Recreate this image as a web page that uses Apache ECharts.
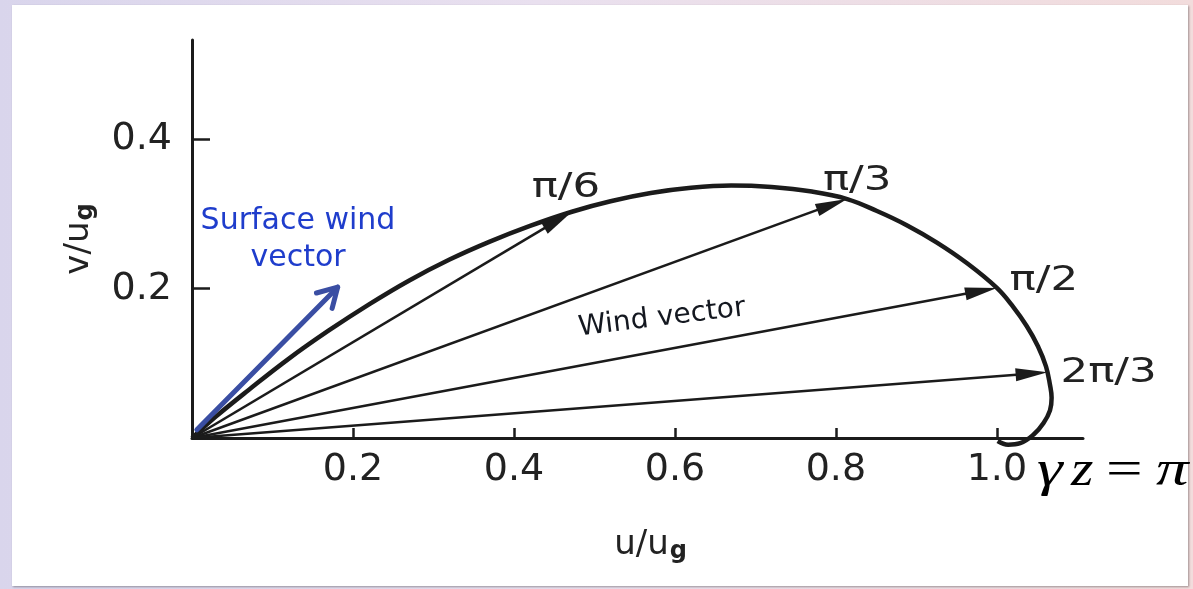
<!DOCTYPE html>
<html><head><meta charset="utf-8">
<script src="https://cdn.jsdelivr.net/npm/echarts@6/dist/echarts.min.js"></script>
<style>
html,body{margin:0;padding:0;width:1193px;height:589px;overflow:hidden;}
body{background:linear-gradient(90deg,#d9d5ec 0%,#e9e0ef 45%,#f2dcdc 100%);}
#frame{position:absolute;left:12px;top:5px;width:1176px;height:581px;background:#fff;box-shadow:1px 1px 2px rgba(0,0,0,0.35);}
#chart{position:absolute;left:0;top:0;width:1193px;height:589px;}
</style></head><body>
<div id="frame"></div><div id="chart"></div>
<script>
// tick labels
const xTicks = [0.2, 0.4, 0.6, 0.8, 1.0];
const yTicks = [0.2, 0.4];
// hodograph (Ekman spiral)
const curveU = [0.000, 0.030, 0.070, 0.120, 0.170, 0.220, 0.270, 0.320, 0.370, 0.420, 0.472, 0.520, 0.570, 0.620, 0.670, 0.720, 0.770, 0.814, 0.851, 0.888, 0.925, 0.963, 1.000, 1.020, 1.037, 1.051, 1.061, 1.066, 1.068, 1.066, 1.058, 1.046, 1.029, 1.014, 1.001];
const curveV = [0.000, 0.029, 0.064, 0.106, 0.144, 0.179, 0.211, 0.239, 0.263, 0.284, 0.303, 0.317, 0.328, 0.335, 0.338, 0.336, 0.330, 0.320, 0.304, 0.285, 0.262, 0.234, 0.201, 0.176, 0.150, 0.123, 0.096, 0.071, 0.054, 0.037, 0.020, 0.005, -0.007, -0.009, -0.004];
// wind vectors
const vectorLabels = ['π/6', 'π/3', 'π/2', '2π/3'];
const vectorU = [0.472, 0.814, 1.000, 1.063];
const vectorV = [0.303, 0.320, 0.201, 0.088];
// surface wind vector
const surfaceU = [0.006, 0.181];
const surfaceV = [0.011, 0.202];

const labelOffsets = [[-6, -24], [10, -18], [47, -7], [61, 1]];
const FONT = '"DejaVu Sans", sans-serif';
const SERIF = '"Liberation Serif", serif';
const INK = '#1b1b1b';

const chart = echarts.init(document.getElementById('chart'), null, {renderer: 'canvas'});

const vectorData = vectorU.map((u, i) => [u, vectorV[i], i]);
const curveData = curveU.map((u, i) => [u, curveV[i]]);

const option = {
  backgroundColor: 'transparent',
  animation: false,
  grid: {left: 192, right: 110, top: 40, bottom: 151, outerBoundsMode: 'none'},
  xAxis: {
    type: 'value', min: 0, max: 1.107, interval: 0.2,
    axisLine: {show: true, onZero: false, lineStyle: {color: INK, width: 3}},
    axisTick: {show: true, inside: true, length: 10, lineStyle: {color: INK, width: 2.5}, customValues: xTicks},
    axisLabel: {show: true, customValues: xTicks, margin: 13, color: '#222', fontSize: 38, fontFamily: FONT,
      formatter: v => v.toFixed(1)},
    splitLine: {show: false},
    name: '{a|u/u}{g|g}', nameLocation: 'middle', nameGap: 88,
    nameTextStyle: {padding: [0, 0, 0, 26], rich: {
      a: {fontSize: 34, fontFamily: FONT, color: '#222'},
      g: {fontSize: 24, fontFamily: FONT, color: '#222', fontWeight: 'bold', padding: [14, 0, 0, 1]}
    }}
  },
  yAxis: {
    type: 'value', min: 0, max: 0.533, interval: 0.2,
    axisLine: {show: true, onZero: false, lineStyle: {color: INK, width: 3}},
    axisTick: {show: true, inside: true, length: 18, lineStyle: {color: INK, width: 2.5}, customValues: yTicks},
    axisLabel: {show: true, customValues: yTicks, margin: 20, color: '#222', fontSize: 38, fontFamily: FONT,
      formatter: v => v.toFixed(1)},
    splitLine: {show: false},
    name: '{a|v/u}{g|g}', nameLocation: 'middle', nameGap: 94, nameRotate: 90,
    nameTextStyle: {rich: {
      a: {fontSize: 34, fontFamily: FONT, color: '#222'},
      g: {fontSize: 24, fontFamily: FONT, color: '#222', fontWeight: 'bold', padding: [14, 0, 0, 1]}
    }}
  },
  series: [
    {
      type: 'custom', name: 'Wind vector', coordinateSystem: 'cartesian2d', clip: false, z: 3,
      data: vectorData,
      renderItem: (params, api) => {
        const o = api.coord([0, 0]);
        const t = api.coord([api.value(0), api.value(1)]);
        const idx = api.value(2);
        const dx = t[0] - o[0], dy = t[1] - o[1];
        const L = Math.hypot(dx, dy);
        const ux = dx / L, uy = dy / L, nx = -uy, ny = ux;
        const hl = 32, hw = 6.5;
        const b = [t[0] - ux * hl, t[1] - uy * hl];
        const off = labelOffsets[idx];
        return {type: 'group', children: [
          {type: 'line', shape: {x1: o[0], y1: o[1], x2: b[0] + ux * 4, y2: b[1] + uy * 4},
            style: {stroke: INK, lineWidth: 2.6}},
          {type: 'polygon', shape: {points: [[t[0], t[1]], [b[0] + nx * hw, b[1] + ny * hw], [b[0] - nx * hw, b[1] - ny * hw]]},
            style: {fill: INK}},
          {type: 'text', x: t[0] + off[0], y: t[1] + off[1], scaleX: 1.28,
            style: {text: vectorLabels[idx], font: '34px ' + FONT, fill: '#222', align: 'center', verticalAlign: 'middle'}}
        ]};
      }
    },
    {
      type: 'line', name: 'Hodograph', data: curveData, smooth: 0.4, symbol: 'none', clip: false, z: 4,
      lineStyle: {color: INK, width: 4.5}
    },
    {
      type: 'custom', name: 'Surface wind vector', coordinateSystem: 'cartesian2d', clip: false, z: 5,
      data: [[surfaceU[0], surfaceV[0], surfaceU[1], surfaceV[1]]],
      renderItem: (params, api) => {
        const o = api.coord([api.value(0), api.value(1)]);
        const t = api.coord([api.value(2), api.value(3)]);
        const dx = t[0] - o[0], dy = t[1] - o[1];
        const L = Math.hypot(dx, dy);
        const bx = -dx / L, by = -dy / L;
        const a = 30 * Math.PI / 180, wl = 22;
        const w1 = [t[0] + wl * (bx * Math.cos(a) - by * Math.sin(a)), t[1] + wl * (bx * Math.sin(a) + by * Math.cos(a))];
        const w2 = [t[0] + wl * (bx * Math.cos(-a) - by * Math.sin(-a)), t[1] + wl * (bx * Math.sin(-a) + by * Math.cos(-a))];
        const st = {stroke: '#3a4ea3', lineWidth: 5, lineCap: 'round', lineJoin: 'round', fill: null};
        return {type: 'group', children: [
          {type: 'line', shape: {x1: o[0], y1: o[1], x2: t[0], y2: t[1]}, style: st},
          {type: 'polyline', shape: {points: [w1, [t[0], t[1]], w2]}, style: st}
        ]};
      }
    }
  ],
  graphic: [
    {type: 'text', x: 298, y: 221, z: 10, style: {text: 'Surface wind', font: '30px ' + FONT, fill: '#1f3dcc', align: 'center', verticalAlign: 'middle'}},
    {type: 'text', x: 298, y: 258, z: 10, style: {text: 'vector', font: '30px ' + FONT, fill: '#1f3dcc', align: 'center', verticalAlign: 'middle'}},
    {type: 'text', x: 662, y: 318, z: 10, rotation: 7 * Math.PI / 180, style: {text: 'Wind vector', font: '28px ' + FONT, fill: '#141820', align: 'center', verticalAlign: 'middle'}},
    {type: 'text', x: 1037, y: 472, z: 10, scaleX: 1.3, style: {text: 'γ', font: 'italic 50px ' + SERIF, fill: '#000', align: 'left', verticalAlign: 'middle'}},
    {type: 'text', x: 1071, y: 472, z: 10, scaleX: 1.15, style: {text: 'z', font: 'italic 50px ' + SERIF, fill: '#000', align: 'left', verticalAlign: 'middle'}},
    {type: 'text', x: 1106, y: 472, z: 10, scaleX: 1.3, style: {text: '=', font: '50px ' + SERIF, fill: '#000', align: 'left', verticalAlign: 'middle'}},
    {type: 'text', x: 1156, y: 472, z: 10, scaleX: 1.3, style: {text: 'π', font: 'italic 50px ' + SERIF, fill: '#000', align: 'left', verticalAlign: 'middle'}}
  ]
};
chart.setOption(option);
</script>
</body></html>
